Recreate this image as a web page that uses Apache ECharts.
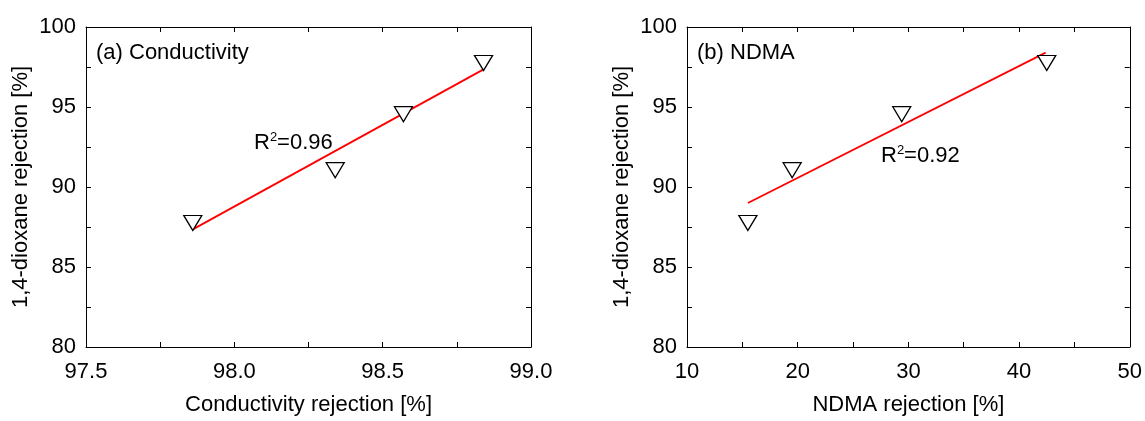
<!DOCTYPE html>
<html lang="en">
<head>
<meta charset="utf-8">
<script src="https://cdn.jsdelivr.net/npm/echarts@6/dist/echarts.min.js"></script>
<style>
  html, body { margin: 0; padding: 0; background: #fff; }
  #chartMain { width: 1145px; height: 421px; }
</style>
</head>
<body>
<div id="chartMain"></div>
<script>
// 1,4-dioxane rejection (same samples in both panels)
var dioxane = [87.75, 91.05, 94.55, 97.75];
// panel (a) conductivity rejection
var conductivity = [97.86, 98.34, 98.57, 98.84];
// panel (b) NDMA rejection
var ndma = [15.5, 19.5, 29.4, 42.5];
// fitted lines: [x, y] end points
var fitA = [[97.86, 87.35], [98.84, 97.35]];
var fitB = [[15.5, 89.0], [42.4, 98.4]];

var font = 'Liberation Sans, Arial, Helvetica, sans-serif';

function pairs(xs, ys) {
    return xs.map(function (x, i) { return [x, ys[i]]; });
}

function xAx(grid, min, max, interval, pos, name) {
    return {
        type: 'value', gridIndex: grid, position: pos,
        min: min, max: max, interval: interval,
        name: name, nameLocation: 'middle', nameGap: 47,
        nameTextStyle: { color: '#000', fontSize: 22, fontFamily: font },
        axisLine: { show: true, onZero: false, lineStyle: { color: '#000', width: 1 } },
        axisTick: { show: true, inside: true, length: 5, lineStyle: { color: '#000' } },
        minorTick: { show: true, splitNumber: 2, length: 5, lineStyle: { color: '#000' } },
        axisLabel: {
            show: pos === 'bottom', margin: 14, color: '#000', fontSize: 22, fontFamily: font,
            formatter: function (v) { return interval < 1 ? v.toFixed(1) : String(v); }
        },
        splitLine: { show: false }
    };
}

function yAx(grid, pos, name) {
    return {
        type: 'value', gridIndex: grid, position: pos,
        min: 80, max: 100, interval: 5,
        name: name, nameLocation: 'middle', nameGap: 54,
        nameTextStyle: { color: '#000', fontSize: 22, fontFamily: font },
        axisLine: { show: true, onZero: false, lineStyle: { color: '#000', width: 1 } },
        axisTick: { show: true, inside: true, length: 5, lineStyle: { color: '#000' } },
        minorTick: { show: true, splitNumber: 2, length: 5, lineStyle: { color: '#000' } },
        axisLabel: { show: pos === 'left', margin: 10, color: '#000', fontSize: 22, fontFamily: font },
        splitLine: { show: false }
    };
}

var markerStyle = {
    type: 'scatter', symbol: 'triangle', symbolRotate: 180, symbolSize: [18, 15],
    itemStyle: { color: '#fff', borderColor: '#000', borderWidth: 1.3, opacity: 1 },
    z: 3
};

var rich = {
    b: { fontSize: 22, fontFamily: font, fill: '#000' },
    s: { fontSize: 13, fontFamily: font, fill: '#000', verticalAlign: 'top', padding: [0, 0, 10, 0] }
};

var myChart = echarts.init(document.getElementById('chartMain'));
myChart.setOption({
    animation: false,
    backgroundColor: '#fff',
    grid: [
        { left: 86, top: 27, width: 445, height: 327 },
        { left: 687, top: 27, width: 444, height: 327 }
    ],
    xAxis: [
        xAx(0, 97.5, 99.0, 0.5, 'bottom', 'Conductivity rejection [%]'),
        xAx(0, 97.5, 99.0, 0.5, 'top', ''),
        xAx(1, 10, 50, 10, 'bottom', 'NDMA rejection [%]'),
        xAx(1, 10, 50, 10, 'top', '')
    ],
    yAxis: [
        yAx(0, 'left', '1,4-dioxane rejection [%]'),
        yAx(0, 'right', ''),
        yAx(1, 'left', '1,4-dioxane rejection [%]'),
        yAx(1, 'right', '')
    ],
    series: [
        {
            type: 'line', xAxisIndex: 0, yAxisIndex: 0, data: fitA,
            symbol: 'none', lineStyle: { color: '#ff0000', width: 1.8 }, z: 2
        },
        Object.assign({ xAxisIndex: 0, yAxisIndex: 0, data: pairs(conductivity, dioxane) }, markerStyle),
        {
            type: 'line', xAxisIndex: 2, yAxisIndex: 2, data: fitB,
            symbol: 'none', lineStyle: { color: '#ff0000', width: 1.8 }, z: 2
        },
        Object.assign({ xAxisIndex: 2, yAxisIndex: 2, data: pairs(ndma, dioxane) }, markerStyle)
    ],
    graphic: [
        {
            type: 'text', left: 96, top: 42,
            style: { text: '(a) Conductivity', fill: '#000', fontSize: 22, fontFamily: font }
        },
        {
            type: 'text', left: 697, top: 42,
            style: { text: '(b) NDMA', fill: '#000', fontSize: 22, fontFamily: font }
        },
        {
            type: 'text', left: 254, top: 131,
            style: { text: '{b|R}{s|2}{b|=0.96}', fill: '#000', fontFamily: font, rich: rich }
        },
        {
            type: 'text', left: 881, top: 144,
            style: { text: '{b|R}{s|2}{b|=0.92}', fill: '#000', fontFamily: font, rich: rich }
        }
    ]
});
</script>
</body>
</html>
